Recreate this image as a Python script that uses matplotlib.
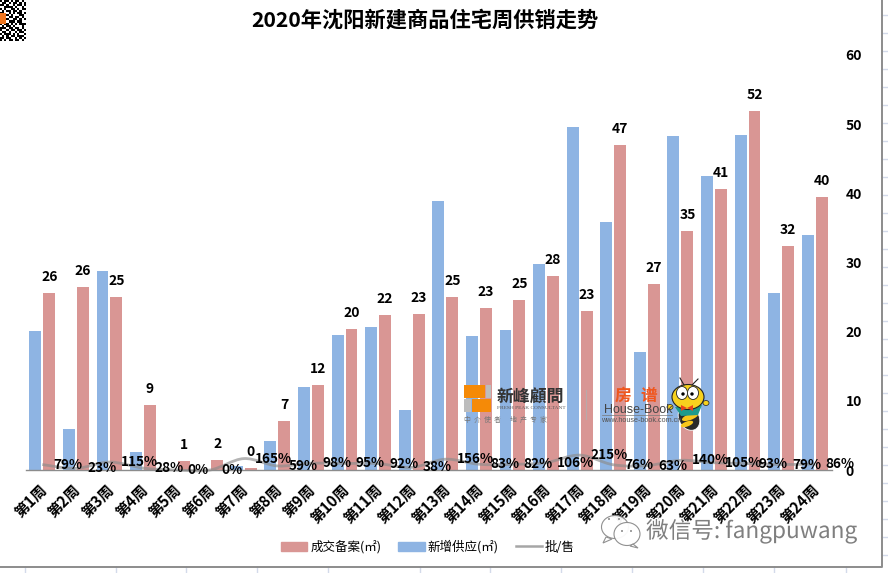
import numpy as np
import matplotlib
matplotlib.use("Agg")
import matplotlib.pyplot as plt
from matplotlib.path import Path
from matplotlib.patches import PathPatch, Patch, Rectangle, Ellipse, Polygon, Circle
from matplotlib.lines import Line2D
from matplotlib.transforms import ScaledTranslation
import matplotlib.patheffects as pe

plt.rcParams['font.family'] = ['Noto Sans CJK SC', 'DejaVu Sans']

weeks = [f"第{i}周" for i in range(1, 25)]
closed = [25.6, 26.5, 25.0, 9.4, 1.3, 1.5, 0.3, 7.1, 12.3, 20.4, 22.4, 22.6,
          25.0, 23.4, 24.6, 28.0, 23.0, 47.0, 26.9, 34.6, 40.6, 51.9, 32.4, 39.5]
closed_labels = [26, 26, 25, 9, 1, 2, 0, 7, 12, 20, 22, 23,
                 25, 23, 25, 28, 23, 47, 27, 35, 41, 52, 32, 40]
supply = [20.1, 5.9, 28.8, 2.6, 0.0, 0.0, 0.6, 4.2, 12.0, 19.5, 20.7, 8.7,
          38.9, 19.4, 20.2, 29.8, 49.6, 35.9, 17.1, 48.3, 42.5, 48.4, 25.6, 34.0]
ratio_pct = [79, 23, 115, 28, 0, 0, 165, 59, 98, 95, 92, 38,
             156, 83, 82, 106, 215, 76, 63, 140, 105, 93, 79, 86]
y_ticks = [0, 10, 20, 30, 40, 50, 60]

W, H = 888, 573
PINK, BLUE, GRAY = '#D99694', '#8EB4E3', '#A6A6A6'
fig = plt.figure(figsize=(W / 100, H / 100), dpi=100, facecolor='white')
L, R, T, B = 25.5, 831.5, 55, 470
ax = fig.add_axes([L / W, 1 - B / H, (R - L) / W, (B - T) / H])
ax.set_facecolor('none')

x = np.arange(len(weeks))
bw, off = 0.355, 0.208
ax.bar(x - off, supply, bw, color=BLUE, zorder=2)
ax.bar(x + off, closed, bw, color=PINK, zorder=2)

ratio = np.array(ratio_pct) / 100
# Excel-style smoothed line: Catmull-Rom through the data points
pts = np.column_stack([x, ratio])
verts, codes = [pts[0]], [Path.MOVETO]
for i in range(len(pts) - 1):
    p0 = pts[max(i - 1, 0)]
    p1, p2 = pts[i], pts[i + 1]
    p3 = pts[min(i + 2, len(pts) - 1)]
    verts += [p1 + (p2 - p0) / 6, p2 - (p3 - p1) / 6, p2]
    codes += [Path.CURVE4] * 3
ax.add_patch(PathPatch(Path(verts, codes), fc='none', ec='#8C8C8C', lw=2, alpha=0.65,
                       zorder=3, clip_on=False))

ax.set_xlim(-0.5, 23.5)
ax.set_ylim(0, 60)
for s in ['top', 'left', 'right']:
    ax.spines[s].set_visible(False)
ax.spines['bottom'].set_color('#8C8C8C')
ax.spines['bottom'].set_linewidth(1)
ax.spines['bottom'].set_zorder(4)
ax.yaxis.tick_right()
ax.set_yticks(y_ticks)
ax.set_yticklabels([str(v) for v in y_ticks], fontsize=10, fontweight='bold', color='black', ha='left')
ax.tick_params(axis='y', length=0, pad=10)
ax.set_xticks(x)
ax.set_xticklabels(weeks, rotation=45, ha='right', va='top', rotation_mode='anchor',
                   fontsize=10.8, fontweight='bold', color='black')
ax.tick_params(axis='x', length=0, pad=8)
shift = ScaledTranslation(-3.5 / 100, 0, fig.dpi_scale_trans)
for lbl in ax.get_xticklabels():
    lbl.set_transform(lbl.get_transform() + shift)

for xi, v, lab in zip(x, closed, closed_labels):
    ax.annotate(str(lab), (xi + off, v), xytext=(0, 11.5), textcoords='offset points',
                ha='center', va='center', fontsize=10, fontweight='bold', zorder=6)
for xi, r, lab in zip(x, ratio, ratio_pct):
    ax.annotate(f"{lab}%", (xi, r), xytext=(8, 0), textcoords='offset points',
                ha='left', va='center', fontsize=9.8, fontweight='bold', zorder=6)

handles = [Patch(color=PINK), Patch(color=BLUE), Line2D([0], [0], color=GRAY, lw=1.8)]
fig.legend(handles, ['成交备案(㎡)', '新增供应(㎡)', '批/售'], ncol=3, frameon=False,
           loc='center', bbox_to_anchor=(428 / W, 1 - 547 / H), fontsize=9,
           handlelength=2.1, handleheight=0.7, handletextpad=0.25, columnspacing=1.35)

fig.text(425 / W, 1 - 20 / H, '2020年沈阳新建商品住宅周供销走势', ha='center', va='center',
         fontsize=15.3, fontweight='bold', color='black')

# Pixel overlay for the page furniture
ov = fig.add_axes([0, 0, 1, 1], zorder=-1)
ov.set_xlim(0, W); ov.set_ylim(H, 0); ov.axis('off'); ov.patch.set_alpha(0)
top = fig.add_axes([0, 0, 1, 1], zorder=10)
top.set_xlim(0, W); top.set_ylim(H, 0); top.axis('off'); top.patch.set_alpha(0)

sheet_x = [25, 116, 186, 257, 328, 420, 490, 561, 632, 703, 774, 846]
for sx in sheet_x:
    ov.plot([sx, sx], [567, 573], color='#D3DAEA', lw=1)
for sy in range(15, 573, 18):
    ov.plot([882, 888], [sy, sy], color='#D3DAEA', lw=1)
ov.plot([0, 882, 882], [567, 567, 0], color='#8C8C8C', lw=1.4)

# QR corner
qr = ["101101011010", "011010110101", "110100101101", "001111010010", "101001101011",
      "010110110100", "110010101101", "101101000110", "011011011010", "110100110101",
      "001011101100", "101101010111", "010110100010", "111011011010", "100101101101",
      "011010010110", "101110101001", "010101101110", "110110010101", "101011011010"]
qr_arr = np.array([[int(c) for c in row] for row in qr])
top.imshow(1 - qr_arr, cmap='gray', extent=(0, 25, 41, 0), interpolation='nearest', aspect='auto')
top.set_xlim(0, W); top.set_ylim(H, 0)
top.add_patch(Rectangle((0, 13), 6, 11, color='#EE7722', lw=0))

# 新峰顧問 logo
top.add_patch(Rectangle((464, 385), 21, 13, color='#F58A07', lw=0))
top.add_patch(Rectangle((472, 399), 19, 13, color='#F58A07', lw=0))
top.add_patch(Rectangle((486, 385), 5, 13, color='#BDBDBD', lw=0))
top.add_patch(Rectangle((464, 399), 7, 13, color='#BDBDBD', lw=0))
top.text(497, 398, '新峰顧問', fontsize=12.2, fontweight='bold', color='#333333', ha='left', va='center')
top.text(497, 408, 'FRESH PEAK CONSULTANT', fontsize=3.9, family='Liberation Serif', color='#555555', ha='left', va='center')
top.text(464, 420, '中  介  使  者      地  产  专  家', fontsize=5.0, color='#777777', ha='left', va='center')
top.plot([586, 586], [390, 419], color='#B9A9A9', lw=0.8)
top.text(623, 396, '房', fontsize=12, color='#F0561D', ha='center', va='center', fontweight='bold')
top.text(649, 396, '谱', fontsize=12, color='#F0561D', ha='center', va='center', fontweight='bold')
top.text(604, 410, 'House-Book', fontsize=9, family='Liberation Sans', color='#444444', ha='left', va='center')
top.text(601, 420, 'www.house-book.com.cn', fontsize=5.2, family='Liberation Sans', color='#555555', ha='left', va='center')
top.plot([602, 672], [415, 415], color='#777777', lw=0.5)

# bee
top.add_patch(Ellipse((689, 418), 20, 26, angle=-30, fc='#2A2A2A', ec='white', lw=0.6))
top.add_patch(Ellipse((690, 417), 17, 6, angle=-20, fc='#F7C61B', lw=0))
top.add_patch(Ellipse((687, 424), 13, 5, angle=-20, fc='#F7C61B', lw=0))
top.add_patch(Polygon([(675, 407), (702, 405), (698, 415), (681, 416)], fc='#1E9A8B', lw=0))
top.add_patch(Ellipse((688, 397), 32, 25, fc='#F7D11E', ec='#222222', lw=0.8))
top.add_patch(Ellipse((682, 393), 11, 13, fc='white', ec='#222222', lw=0.6))
top.add_patch(Ellipse((693, 393), 11, 13, fc='white', ec='#222222', lw=0.6))
top.add_patch(Circle((683, 394), 1.7, fc='black', lw=0))
top.add_patch(Circle((692, 394), 1.7, fc='black', lw=0))
top.add_patch(Polygon([(681, 405), (687, 408), (693, 405), (693, 411), (687, 408), (681, 411)], fc='#E8431C', lw=0))
top.plot([684, 680], [385, 378], color='#222222', lw=0.8)
top.plot([692, 698], [385, 379], color='#222222', lw=0.8)
top.add_patch(Ellipse((670, 407), 6, 5, fc='#F7D11E', ec='#222222', lw=0.5))
top.add_patch(Ellipse((706, 403), 6, 5, fc='#F7D11E', ec='#222222', lw=0.5))

# WeChat watermark
wm = dict(fc='white', ec='#8A8A8A', lw=0.8, alpha=0.95)
top.add_patch(Ellipse((615, 527), 27, 23, **wm))
top.add_patch(Polygon([(606, 537), (603, 543), (612, 539)], **wm))
top.add_patch(Ellipse((627, 534), 26, 23, **wm))
top.add_patch(Polygon([(633, 544), (638, 548), (630, 546)], **wm))
for cx, cy in [(609, 519), (619, 519), (622, 531), (631, 531)]:
    top.add_patch(Circle((cx, cy), 1, fc='#8A8A8A', lw=0))
t = top.text(646, 531, '微信号: fangpuwang', fontsize=16.3, color='#7F7F7F', ha='left', va='center',
             fontweight='light')
t.set_path_effects([pe.withStroke(linewidth=2, foreground='white')])

fig.savefig('out.png', dpi=100)
